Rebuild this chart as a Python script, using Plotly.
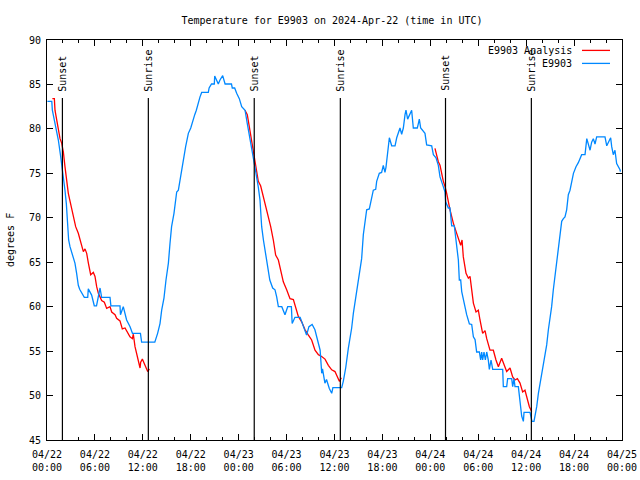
import plotly.graph_objects as go
from datetime import datetime, timedelta

BASE = datetime(2024, 4, 22, 0, 0)

# Observed temperature (E9903): hours since 2024-04-22 00:00 UTC, degrees F
OBS_HOURS = [0.05, 0.6, 0.67, 1.0, 1.42, 1.71, 1.92, 2.05, 2.25, 2.42, 2.59, 2.71, 2.88, 3.17, 3.5,
             3.71, 3.92, 4.09, 4.34, 4.67, 5.1, 5.17, 5.59, 5.92, 6.2, 6.42, 6.64, 6.84, 7.89, 8.0,
             9.14, 9.2, 9.55, 9.97, 10.4, 10.7, 11.7, 11.85, 13.5, 13.85, 14.15, 14.36, 14.65, 14.9,
             15.2, 15.4, 15.6, 15.9, 16.24, 16.45, 16.78, 17.07, 17.36, 17.7, 18.0, 18.5, 18.7, 19.16,
             19.37, 20.2, 20.3, 20.6, 20.95, 21.0, 21.2, 21.45, 21.66, 22.0, 22.3, 23.1, 23.2, 23.5,
             23.75, 24.08, 24.38, 24.8, 25.08, 25.4, 25.6, 25.8, 26.0, 26.2, 26.45, 26.67, 26.88, 27.1,
             27.3, 27.5, 27.7, 27.9, 28.26, 28.55, 28.76, 28.97, 29.4, 29.8, 30.14, 30.6, 30.7, 31.05,
             31.7, 32.1, 32.5, 32.8, 33.2, 33.55, 33.97, 34.2, 34.4, 34.5, 34.8, 35.0, 35.35, 35.65,
             35.8, 36.9, 37.1, 37.4, 37.73, 37.94, 38.15, 38.36, 38.57, 38.78, 38.98, 39.19, 39.4,
             39.61, 39.82, 40.03, 40.36, 40.65, 40.86, 41.16, 41.28, 41.61, 41.9, 42.11, 42.32, 42.45,
             42.62, 42.87, 43.16, 43.58, 43.79, 43.99, 44.2, 44.41, 44.62, 44.83, 44.95, 45.16, 45.45,
             45.66, 45.87, 46.37, 46.5, 46.62, 46.79, 47.33, 47.54, 48.17, 48.38, 48.71, 49.0, 49.21,
             49.55, 49.84, 49.92, 50.25, 50.46, 50.67, 51.0, 51.22, 51.38, 51.51, 51.63, 51.8, 51.93,
             52.13, 52.34, 52.55, 52.89, 53.18, 53.39, 53.6, 53.8, 54.14, 54.3, 54.43, 54.55, 54.72,
             54.89, 55.06, 55.26, 55.39, 55.6, 55.81, 57.06, 57.14, 57.56, 57.68, 58.19, 58.31, 58.48,
             58.6, 59.02, 59.14, 59.31, 59.44, 59.65, 59.73, 60.48, 60.73, 60.98, 61.19, 61.32, 61.53,
             61.74, 61.94, 62.15, 62.36, 62.57, 62.78, 62.99, 63.19, 63.4, 63.61, 63.83, 64.03, 64.24,
             64.45, 64.66, 64.86, 65.07, 65.28, 65.49, 65.7, 65.92, 66.24, 66.53, 66.95, 67.37, 67.59,
             67.79, 68.0, 68.2, 68.41, 68.62, 68.83, 69.87, 70.09, 70.41, 70.58, 70.71, 70.91, 71.12,
             71.33, 71.75, 71.8]
OBS_TEMPS = [83.1, 83.1, 82.1, 80.6, 78.75, 76.9, 75.6, 74.4, 73.1, 71.6, 69.75, 67.5, 66.75, 66.0, 64.9,
             63.75, 62.4, 61.95, 61.6, 61.05, 61.05, 62.0, 61.3, 60.1, 60.1, 61.2, 62.1, 61.05, 61.05, 60.1,
             60.1, 59.1, 60.0, 58.5, 57.75, 57.0, 57.0, 56.0, 56.0, 57.0, 58.1, 59.6, 61.0, 63.0,
             64.9, 67.1, 69.0, 70.5, 72.9, 73.1, 75.0, 76.5, 78.0, 79.5, 80.1, 81.6, 82.1, 83.6,
             84.1, 84.1, 84.6, 85.05, 85.05, 85.95, 85.5, 85.05, 85.5, 86.0, 85.05, 85.05, 84.6, 84.6,
             84.0, 83.4, 82.5, 82.1, 80.6, 78.75, 77.8, 76.9, 75.9, 75.0, 73.5, 72.0, 69.0, 67.5,
             66.4, 65.25, 63.75, 63.0, 62.1, 61.9, 61.1, 60.0, 60.0, 59.1, 60.0, 60.0, 58.1, 58.8,
             58.8, 57.75, 56.8, 57.75, 58.0, 57.4, 56.1, 55.1, 52.5, 53.0, 51.4, 51.8, 50.8, 50.25,
             50.9, 50.9, 51.6, 53.1, 55.3, 56.4, 57.6, 59.25, 60.55, 61.3, 62.8, 64.3, 65.4,
             68.1, 69.6, 70.9, 71.0, 72.4, 73.1, 73.2, 74.1, 75.0, 75.1, 75.9, 75.1, 75.7,
             77.4, 79.0, 78.1, 78.1, 79.0, 79.5, 80.1, 79.4, 80.1, 81.6, 82.1, 81.1, 81.6,
             82.1, 80.1, 80.1, 80.6, 81.1, 80.1, 79.5, 78.2, 78.1, 77.1, 76.75, 75.9, 74.6,
             73.7, 72.9, 71.8, 71.1, 71.1, 69.1, 69.1, 67.5, 66.6, 65.25, 63.0, 63.0, 61.7,
             60.75, 59.8, 59.1, 58.05, 58.0, 56.6, 56.3, 54.9, 54.9, 54.0, 54.9, 54.0, 54.9,
             54.0, 54.9, 54.0, 52.95, 54.0, 52.95, 52.95, 51.0, 51.0, 51.9, 51.9, 51.0, 51.9,
             51.0, 51.0, 49.9, 48.4, 47.7, 47.1, 48.1, 48.1, 47.1, 47.1, 48.1, 48.75, 50.25,
             51.4, 52.5, 53.4, 54.6, 55.7, 57.4, 58.5, 60.0, 61.9, 63.4, 64.9, 66.75, 68.25,
             69.6, 69.9, 70.1, 70.9, 72.6, 73.1, 74.1, 75.0, 75.75, 76.2, 77.1, 77.1, 78.9,
             78.1, 77.6, 78.5, 78.9, 78.3, 79.1, 79.1, 78.1, 78.7, 79.0, 78.0, 77.1, 77.6,
             76.1, 75.4, 75.2]

# Analysis temperature (E9903 Analysis), one segment per night
ANA_HOURS_1 = [0.67, 0.92, 1.0, 1.21, 1.42, 1.63, 1.84, 2.05, 2.25, 2.46, 2.67, 3.0, 3.3, 3.59, 3.92,
               4.26, 4.55, 4.76, 4.97, 5.18, 5.47, 5.8, 6.01, 6.22, 6.43, 6.64, 6.84, 7.18, 7.47, 7.89,
               8.1, 8.52, 8.72, 9.14, 9.43, 9.77, 9.98, 10.39, 10.69, 10.81, 11.02, 11.23, 11.44, 11.65,
               11.73, 11.94, 12.27, 12.61, 12.82]
ANA_TEMPS_1 = [83.4, 83.4, 82.1, 81.0, 79.9, 78.9, 78.4, 77.4, 75.75, 74.25, 72.75, 71.4, 70.3, 69.0, 68.25,
               67.1, 66.2, 66.5, 66.0, 64.9, 63.6, 63.85, 63.4, 62.25, 61.5, 61.1, 60.7, 60.5, 59.8, 60.0,
               59.4, 59.1, 58.7, 58.4, 57.5, 57.6, 57.3, 56.6, 56.4, 56.9, 55.5, 54.75, 54.0, 53.1,
               53.75, 54.1, 53.4, 52.7, 53.0]
ANA_HOURS_2 = [24.79, 25.08, 25.33, 25.63, 25.92, 26.17, 26.46, 26.75, 27.09, 27.42, 27.71, 28.01, 28.34,
               28.63, 28.97, 29.26, 29.59, 30.01, 30.43, 30.85, 31.14, 31.47, 31.89, 32.31, 32.73, 33.14,
               33.56, 33.98, 34.39, 34.81, 35.23, 35.65, 36.06, 36.27, 36.61, 36.86]
ANA_TEMPS_2 = [82.1, 81.6, 80.25, 78.6, 77.25, 75.75, 74.1, 73.6, 72.4, 71.25, 70.3, 69.0, 67.5,
               65.8, 65.25, 64.1, 62.8, 61.9, 60.9, 60.8, 60.0, 58.9, 58.3, 57.4, 56.8, 56.25,
               55.1, 54.6, 54.4, 54.1, 53.4, 52.9, 52.7, 52.3, 51.6, 52.0]
ANA_HOURS_3 = [48.58, 49.0, 49.21, 49.42, 49.63, 49.84, 50.05, 50.46, 50.88, 51.3, 51.63, 51.8, 51.97,
               52.13, 52.47, 52.76, 52.97, 53.18, 53.39, 53.72, 54.01, 54.22, 54.55, 54.85, 55.06, 55.47,
               55.89, 56.22, 56.52, 56.93, 57.35, 57.56, 57.98, 58.31, 58.6, 58.9, 59.23, 59.56, 59.85,
               60.15, 60.4, 60.69]
ANA_TEMPS_3 = [77.8, 76.3, 75.9, 74.8, 74.1, 73.5, 72.75, 70.9, 69.4, 68.25, 67.3, 66.9, 67.5,
               65.6, 63.75, 63.2, 63.4, 61.7, 60.4, 59.4, 59.6, 58.5, 57.0, 57.3, 56.4, 55.1,
               55.1, 54.0, 53.25, 54.2, 53.25, 52.7, 53.1, 52.1, 51.75, 51.9, 51.4, 50.4, 50.6,
               49.7, 48.75, 48.2]

SUNSET_HOURS = [1.93, 25.95, 49.9]
SUNRISE_HOURS = [12.69, 36.73, 60.65]

X_TICK_HOURS = list(range(0, 73, 6))
X_TICK_LABELS = ["04/22<br>00:00", "04/22<br>06:00", "04/22<br>12:00", "04/22<br>18:00",
                 "04/23<br>00:00", "04/23<br>06:00", "04/23<br>12:00", "04/23<br>18:00",
                 "04/24<br>00:00", "04/24<br>06:00", "04/24<br>12:00", "04/24<br>18:00",
                 "04/25<br>00:00"]
X_MINOR_HOURS = [h for h in range(0, 73, 2) if h % 6 != 0]

TITLE = "Temperature for E9903 on 2024-Apr-22 (time in UTC)"
RED = "#ff0000"
BLUE = "#0088ff"
FONT = "DejaVu Sans Mono"


def t(h):
    return BASE + timedelta(hours=h)


fig = go.Figure()
for hrs, temps in [(ANA_HOURS_1, ANA_TEMPS_1), (ANA_HOURS_2, ANA_TEMPS_2), (ANA_HOURS_3, ANA_TEMPS_3)]:
    fig.add_trace(go.Scatter(x=[t(h) for h in hrs], y=temps, mode="lines",
                             line=dict(color=RED, width=1.3), name="E9903 Analysis",
                             showlegend=False, hoverinfo="skip"))
fig.add_trace(go.Scatter(x=[t(h) for h in OBS_HOURS], y=OBS_TEMPS, mode="lines",
                         line=dict(color=BLUE, width=1.3), name="E9903",
                         showlegend=False, hoverinfo="skip"))

Y_LINE_TOP = 83.47
Y_LABEL_BOTTOM = 84.0
for label, hours in [("Sunset", SUNSET_HOURS), ("Sunrise", SUNRISE_HOURS)]:
    for h in hours:
        fig.add_shape(type="line", xref="x", yref="y", x0=t(h), x1=t(h), y0=45, y1=Y_LINE_TOP,
                      line=dict(color="black", width=1.2), layer="above")
        fig.add_annotation(x=t(h), y=Y_LABEL_BOTTOM, xref="x", yref="y", text=label,
                           textangle=-90, showarrow=False, xanchor="center", yanchor="bottom",
                           font=dict(family=FONT, size=10, color="black"))

# legend drawn gnuplot-style (text right-aligned, sample at right)
for name, color, ypos in [("E9903 Analysis", RED, 0.974), ("E9903", BLUE, 0.9415)]:
    fig.add_annotation(x=0.9165, y=ypos, xref="paper", yref="paper", text=name, showarrow=False,
                       xanchor="right", yanchor="middle", font=dict(family=FONT, size=10, color="black"))
    fig.add_shape(type="line", xref="paper", yref="paper", x0=0.9304, x1=0.9791, y0=ypos, y1=ypos,
                  line=dict(color=color, width=1.3))

fig.add_annotation(x=-0.0643, y=0.5, xref="paper", yref="paper", text="degrees F", textangle=-90,
                   showarrow=False, xanchor="center", yanchor="middle",
                   font=dict(family=FONT, size=10, color="black"))

fig.update_layout(
    width=640, height=480,
    margin=dict(l=47, r=18, t=40, b=40, autoexpand=False),
    paper_bgcolor="white", plot_bgcolor="white",
    showlegend=False,
    font=dict(family=FONT, size=10, color="black"),
    title=dict(text=TITLE, x=332 / 640, xanchor="center", y=1 - 20 / 480,
               yanchor="middle", font=dict(family=FONT, size=10, color="black")),
    xaxis=dict(type="date", range=[t(0), t(72)], tickmode="array",
               tickvals=[t(h) for h in X_TICK_HOURS], ticktext=X_TICK_LABELS,
               ticks="inside", ticklen=6, tickcolor="black", tickwidth=1,
               showline=True, linecolor="black", linewidth=1, mirror="allticks",
               showgrid=False, zeroline=False, ticklabelstandoff=5,
               minor=dict(tickmode="array", tickvals=[t(h) for h in X_MINOR_HOURS],
                          ticks="inside", ticklen=3, tickcolor="black", showgrid=False),
               tickfont=dict(family=FONT, size=10, color="black")),
    yaxis=dict(range=[45, 90], tickmode="linear", tick0=45, dtick=5,
               ticks="inside", ticklen=6, tickcolor="black", tickwidth=1,
               showline=True, linecolor="black", linewidth=1, mirror="allticks",
               showgrid=False, zeroline=False, ticklabelstandoff=3,
               tickfont=dict(family=FONT, size=10, color="black")),
)

# remove the page's default 8px body margin so the 640x480 figure fills the window
fig.write_html("out.html", config={"displayModeBar": False},
               post_script="document.body.style.margin='0px';")
